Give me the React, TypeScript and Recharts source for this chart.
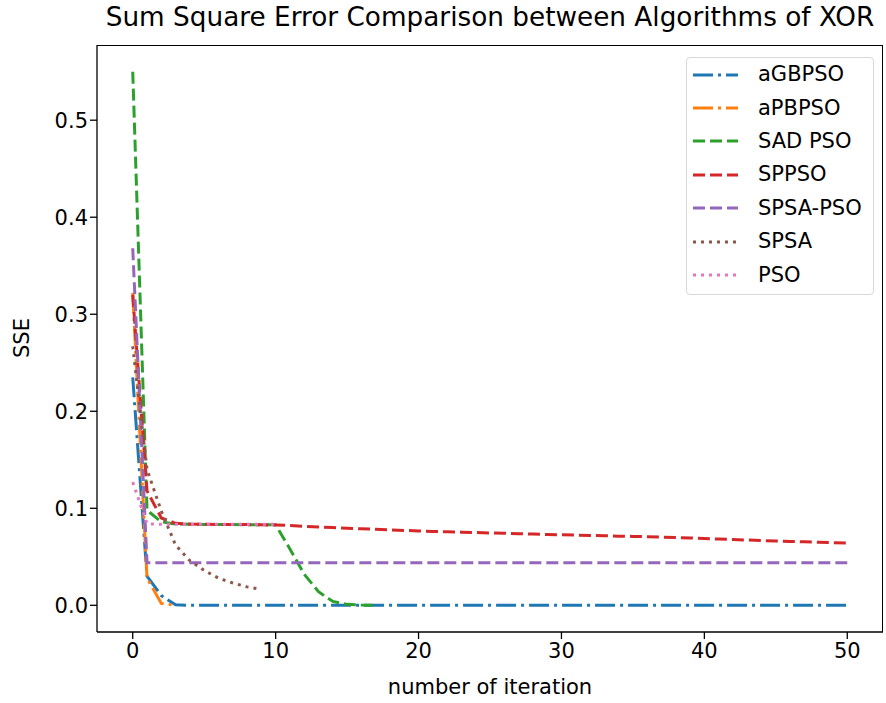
import { LineChart, Line, XAxis, YAxis } from 'recharts';

// SSE per iteration
const aGBPSO = [
  0.235, 0.030, 0.010, 0.0005, 0, 0, 0, 0, 0, 0,
  0, 0, 0, 0, 0, 0, 0, 0, 0, 0,
  0, 0, 0, 0, 0, 0, 0, 0, 0, 0,
  0, 0, 0, 0, 0, 0, 0, 0, 0, 0,
  0, 0, 0, 0, 0, 0, 0, 0, 0, 0,
  0,
];
const aPBPSO = [0.322, 0.028, 0.002, 0.0];
const sadPSO = [
  0.55, 0.098, 0.086, 0.0838, 0.0836, 0.0834, 0.0833, 0.0832, 0.0831, 0.083,
  0.083, 0.058, 0.032, 0.014, 0.004, 0.001, 0.0003, 0.0001,
];
const spPSO = [
  0.32, 0.118, 0.09, 0.0845, 0.0838, 0.0835, 0.0834, 0.0833, 0.0832, 0.083,
  0.0828, 0.0822, 0.0815, 0.0808, 0.0801, 0.0795, 0.0789, 0.0783, 0.0777, 0.0772,
  0.0767, 0.0762, 0.0758, 0.0754, 0.075, 0.0746, 0.0742, 0.0738, 0.0734, 0.073,
  0.0727, 0.0723, 0.072, 0.0717, 0.0713, 0.071, 0.0707, 0.0703, 0.0699, 0.0694,
  0.0689, 0.0683, 0.0678, 0.0673, 0.0668, 0.0663, 0.0658, 0.0654, 0.065, 0.0646,
  0.0642,
];
const spsaPSO = [
  0.368, 0.044, 0.044, 0.044, 0.044, 0.044, 0.044, 0.044, 0.044, 0.044,
  0.044, 0.044, 0.044, 0.044, 0.044, 0.044, 0.044, 0.044, 0.044, 0.044,
  0.044, 0.044, 0.044, 0.044, 0.044, 0.044, 0.044, 0.044, 0.044, 0.044,
  0.044, 0.044, 0.044, 0.044, 0.044, 0.044, 0.044, 0.044, 0.044, 0.044,
  0.044, 0.044, 0.044, 0.044, 0.044, 0.044, 0.044, 0.044, 0.044, 0.044,
  0.044,
];
const spsa = [0.267, 0.14, 0.097, 0.062, 0.046, 0.036, 0.028, 0.023, 0.019, 0.0165];
const pso = [0.127, 0.084, 0.0835, 0.0835, 0.0835, 0.0835, 0.0835, 0.0835, 0.0835, 0.0835, 0.0835];

const xTicks = [0, 10, 20, 30, 40, 50];
const yTicks = [0, 0.1, 0.2, 0.3, 0.4, 0.5];

const DASHED = '12 5';
const DASH_DOT = '20 5 3 5';
const DOTTED = '3 5';

const SERIES = [
  { key: 'aGBPSO', name: 'aGBPSO', values: aGBPSO, color: '#1f77b4', dash: DASH_DOT },
  { key: 'aPBPSO', name: 'aPBPSO', values: aPBPSO, color: '#ff7f0e', dash: DASH_DOT },
  { key: 'sad', name: 'SAD PSO', values: sadPSO, color: '#2ca02c', dash: DASHED },
  { key: 'sppso', name: 'SPPSO', values: spPSO, color: '#d62728', dash: DASHED },
  { key: 'spsapso', name: 'SPSA-PSO', values: spsaPSO, color: '#9467bd', dash: DASHED },
  { key: 'spsa', name: 'SPSA', values: spsa, color: '#8c564b', dash: DOTTED },
  { key: 'pso', name: 'PSO', values: pso, color: '#e377c2', dash: DOTTED },
];

const maxLen = Math.max(...SERIES.map((s) => s.values.length));
const rows = Array.from({ length: maxLen }, (_, i) => {
  const row: Record<string, number | undefined> = { x: i };
  SERIES.forEach((s) => {
    row[s.key] = s.values[i];
  });
  return row;
});

const FONT = '"DejaVu Sans", sans-serif';
const tickStyle = { fontSize: 21, fill: '#000', fontFamily: FONT };

export default function App() {
  return (
    <div style={{ position: 'absolute', left: 0, top: 0, width: 886, height: 703, background: '#fff', fontFamily: FONT }}>
      <div
        style={{
          position: 'absolute', left: 490, top: 17, transform: 'translate(-50%, -50%)',
          fontSize: 26.3, lineHeight: 1, whiteSpace: 'nowrap', color: '#000',
        }}
      >
        Sum Square Error Comparison between Algorithms of XOR
      </div>
      <LineChart width={886} height={703} data={rows} margin={{ top: 45, right: 3, bottom: 0, left: 0 }}>
        <XAxis
          dataKey="x"
          type="number"
          domain={[-2.5, 52.5]}
          ticks={xTicks}
          height={71}
          tickSize={7}
          tickMargin={4}
          tick={tickStyle}
          axisLine={{ stroke: '#000', strokeWidth: 1.3 }}
          tickLine={{ stroke: '#000', strokeWidth: 1.3 }}
          allowDataOverflow
        />
        <YAxis
          type="number"
          domain={[-0.0275, 0.5775]}
          ticks={yTicks}
          width={97}
          tickSize={7}
          tickMargin={2}
          tick={tickStyle}
          tickFormatter={(v: number) => v.toFixed(1)}
          axisLine={{ stroke: '#000', strokeWidth: 1.3 }}
          tickLine={{ stroke: '#000', strokeWidth: 1.3 }}
          allowDataOverflow
        />
        {SERIES.map((s) => (
          <Line
            key={s.key}
            type="linear"
            dataKey={s.key}
            stroke={s.color}
            strokeWidth={3}
            strokeDasharray={s.dash}
            dot={false}
            activeDot={false}
            isAnimationActive={false}
          />
        ))}
      </LineChart>
      {/* top and right spines */}
      <div
        style={{
          position: 'absolute', left: 96.5, top: 44.5, width: 786, height: 587, boxSizing: 'border-box',
          borderTop: '1.3px solid #000', borderRight: '1.3px solid #000', pointerEvents: 'none',
        }}
      />
      <div
        style={{
          position: 'absolute', left: 490, top: 687, transform: 'translate(-50%, -50%)',
          fontSize: 21, lineHeight: 1, whiteSpace: 'nowrap', color: '#000',
        }}
      >
        number of iteration
      </div>
      <div
        style={{
          position: 'absolute', left: 22, top: 338, transform: 'translate(-50%, -50%) rotate(-90deg)',
          fontSize: 21, lineHeight: 1, whiteSpace: 'nowrap', color: '#000',
        }}
      >
        SSE
      </div>
      <div
        style={{
          position: 'absolute', left: 686, top: 57, width: 188, height: 238, boxSizing: 'border-box',
          border: '1.3px solid #d6d6d6', borderRadius: 4, background: 'rgba(255,255,255,0.8)',
        }}
      >
        {SERIES.map((s) => (
          <div key={s.key} style={{ height: 33.4, display: 'flex', alignItems: 'center' }}>
            <svg width={45} height={10} style={{ marginLeft: 6, marginRight: 20 }}>
              <line x1={0} y1={5} x2={45} y2={5} stroke={s.color} strokeWidth={3} strokeDasharray={s.dash} />
            </svg>
            <span style={{ fontSize: 21, lineHeight: 1, color: '#000', whiteSpace: 'nowrap' }}>{s.name}</span>
          </div>
        ))}
      </div>
    </div>
  );
}
